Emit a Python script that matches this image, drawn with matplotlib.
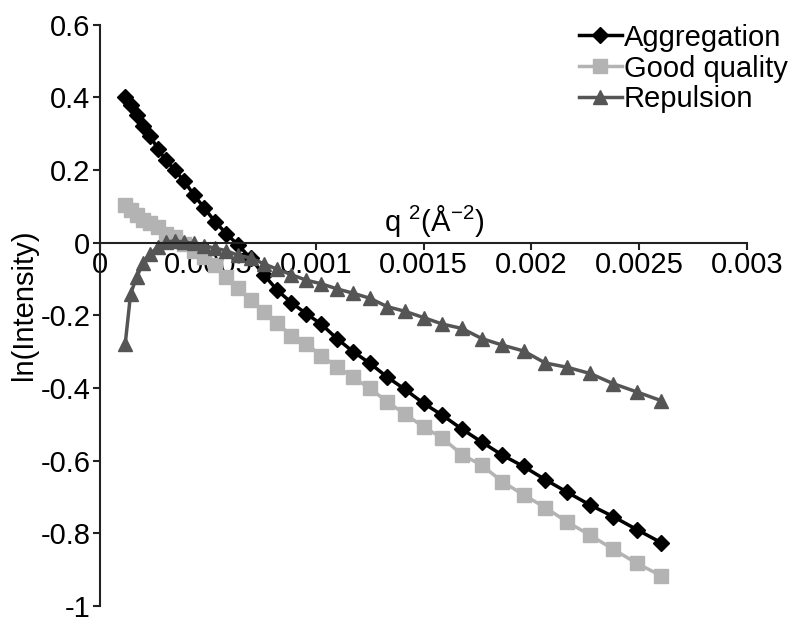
import matplotlib
matplotlib.use("Agg")
import matplotlib.pyplot as plt

plt.rcParams['font.family'] = ['Liberation Sans', 'DejaVu Sans']
plt.rcParams['mathtext.default'] = 'regular'

# q^2 values (A^-2), shared by all three curves
q2 = [0.00011664, 0.00014201, 0.00016989, 0.00020025, 0.00023311, 0.00026847,
      0.00030632, 0.00034667, 0.00038951, 0.00043485, 0.00048268, 0.00053301,
      0.00058583, 0.00064115, 0.00069897, 0.00075928, 0.00082208, 0.00088738,
      0.00095518, 0.00102547, 0.00109826, 0.00117354, 0.00125132, 0.00133159,
      0.00141436, 0.00149963, 0.00158738, 0.00167764, 0.00177039, 0.00186564,
      0.00196338, 0.00206361, 0.00216634, 0.00227157, 0.00237929, 0.00248951,
      0.00260222]

aggregation = [0.400, 0.378, 0.352, 0.320, 0.293, 0.258, 0.227, 0.200, 0.170,
               0.132, 0.096, 0.058, 0.025, -0.007, -0.043, -0.088, -0.131,
               -0.165, -0.195, -0.224, -0.264, -0.300, -0.332, -0.370, -0.404,
               -0.442, -0.475, -0.513, -0.549, -0.585, -0.616, -0.652, -0.687,
               -0.722, -0.754, -0.790, -0.826]

good_quality = [0.105, 0.090, 0.077, 0.063, 0.053, 0.042, 0.025, 0.017, -0.003,
                 -0.022, -0.040, -0.060, -0.095, -0.124, -0.158, -0.191, -0.222,
                 -0.256, -0.278, -0.311, -0.341, -0.371, -0.401, -0.438, -0.472,
                 -0.507, -0.538, -0.583, -0.613, -0.658, -0.694, -0.729, -0.769,
                 -0.805, -0.844, -0.883, -0.917]

repulsion = [-0.280, -0.140, -0.095, -0.055, -0.030, -0.012, 0.002, 0.005, 0.002,
             -0.002, -0.008, -0.015, -0.022, -0.035, -0.042, -0.058, -0.073,
             -0.088, -0.103, -0.113, -0.127, -0.139, -0.153, -0.176, -0.189,
             -0.206, -0.224, -0.236, -0.264, -0.282, -0.298, -0.331, -0.343,
             -0.360, -0.388, -0.411, -0.435]

x_ticks = [0, 0.0005, 0.001, 0.0015, 0.002, 0.0025, 0.003]
x_tick_labels = ['0', '0.0005', '0.001', '0.0015', '0.002', '0.0025', '0.003']
y_ticks = [-1, -0.8, -0.6, -0.4, -0.2, 0, 0.2, 0.4, 0.6]
y_tick_labels = ['-1', '-0.8', '-0.6', '-0.4', '-0.2', '0', '0.2', '0.4', '0.6']

fig = plt.figure(figsize=(8, 6.35), dpi=100)
ax = fig.add_axes([0.125, 0.0457, 0.809, 0.9153])

ax.plot(q2, aggregation, '-', color='black', lw=2.5, marker='D',
        markersize=8, label='Aggregation')
ax.plot(q2, good_quality, '-', color='#b3b3b3', lw=2.5, marker='s',
        markersize=10, label='Good quality')
ax.plot(q2, repulsion, '-', color='#555555', lw=2.5, marker='^',
        markersize=10, label='Repulsion')

ax.set_xlim(0, 0.003)
ax.set_ylim(-1, 0.6)

# axes styling: y axis at left, x axis through y=0
ax.spines['top'].set_visible(False)
ax.spines['right'].set_visible(False)
ax.spines['bottom'].set_position(('data', 0))
for s in ('left', 'bottom'):
    ax.spines[s].set_linewidth(1.5)
    ax.spines[s].set_color('#222222')

ax.set_xticks(x_ticks)
ax.set_xticklabels(x_tick_labels)
ax.set_yticks(y_ticks)
ax.set_yticklabels(y_tick_labels)
ax.tick_params(axis='both', direction='out', length=5, width=1.5,
               labelsize=21, color='#222222')
ax.tick_params(axis='x', pad=1)
ax.tick_params(axis='y', pad=2)

ax.text(0.00155, 0.01, 'q $^{2}$(Å$^{-2}$)', fontsize=21,
        ha='center', va='bottom')
fig.text(0.03, 0.52, 'ln(Intensity)', rotation=90, fontsize=21,
         ha='center', va='center')

ax.legend(loc='upper right', bbox_to_anchor=(1.085, 1.027), frameon=False,
          fontsize=21, handlelength=1.5, handletextpad=0.05,
          labelspacing=0.1, borderaxespad=0.1)

fig.savefig('out.png', dpi=100)
